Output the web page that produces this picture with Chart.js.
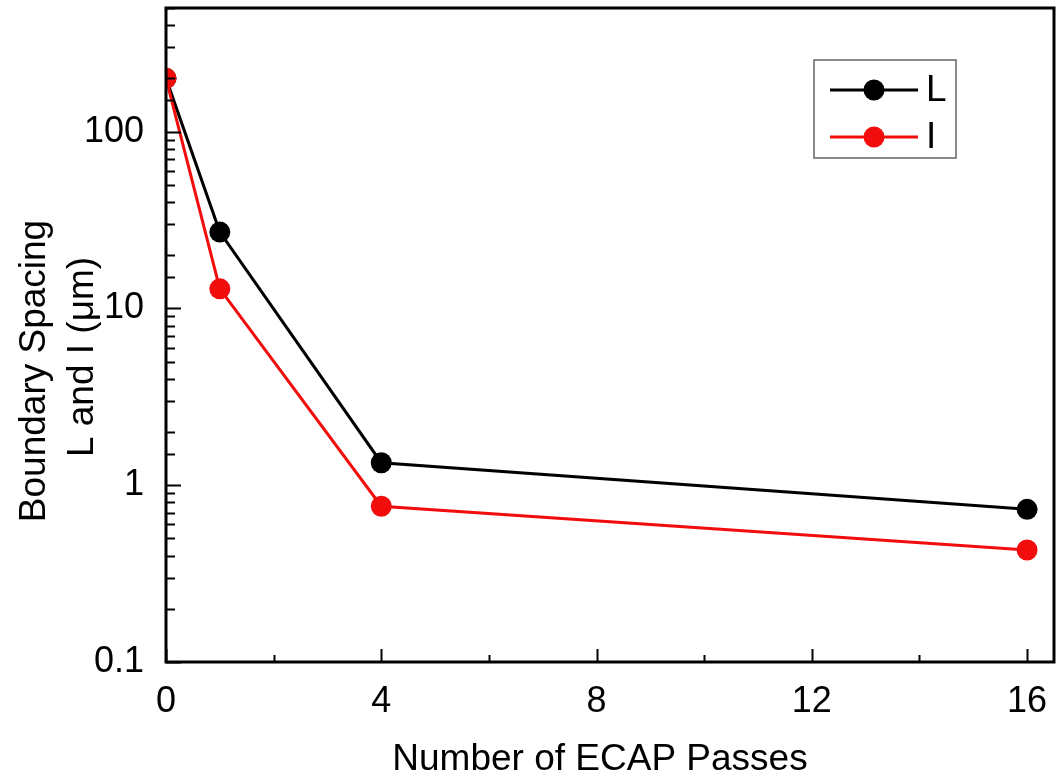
<!DOCTYPE html>
<html>
<head>
<meta charset="utf-8">
<script src="https://cdn.jsdelivr.net/npm/chart.js@4/dist/chart.umd.min.js"></script>
<style>
  html, body { margin: 0; padding: 0; background: #fff; }
  #wrap { width: 1056px; height: 782px; }
</style>
</head>
<body>
<div id="wrap"><canvas id="spacingChart" width="1056" height="782"></canvas></div>
<script>
// ECAP passes vs boundary spacing (log scale)
const passes = [0, 1, 4, 16];
const spacingL = [200, 27, 1.34, 0.73];
const spacingI = [200, 12.9, 0.76, 0.43];
const majorY = [0.1, 1, 10, 100];
const xTitle = 'Number of ECAP Passes';
const yTitle = ['Boundary Spacing', 'L and I (\u03bcm)'];

const FONT = "'Liberation Sans', Arial, sans-serif";
const RED = '#f20d0d';

function isMajor(v) {
    return majorY.some(m => Math.abs(m - v) < m * 1e-6);
}

// frame, inward ticks, titles and legend box
const decorPlugin = {
    id: 'decor',
    afterDatasetsDraw(chart) {
        const ctx = chart.ctx;
        const area = chart.chartArea;
        const xs = chart.scales.x;
        const ys = chart.scales.y;
        ctx.save();
        ctx.strokeStyle = '#000';
        ctx.lineWidth = 2;

        xs.ticks.forEach(t => {
            if (t.value % 2 !== 0) return;
            const px = Math.round(xs.getPixelForValue(t.value)) + 0.5;
            const len = t.value % 4 === 0 ? 13 : 7;
            ctx.beginPath();
            ctx.moveTo(px, area.bottom);
            ctx.lineTo(px, area.bottom - len);
            ctx.stroke();
        });
        ys.ticks.forEach(t => {
            const py = Math.round(ys.getPixelForValue(t.value)) + 0.5;
            const len = isMajor(t.value) ? 15 : 9;
            ctx.beginPath();
            ctx.moveTo(area.left, py);
            ctx.lineTo(area.left + len, py);
            ctx.stroke();
        });

        ctx.lineWidth = 3;
        ctx.strokeRect(area.left, area.top, area.right - area.left, area.bottom - area.top);

        // axis titles
        ctx.fillStyle = '#000';
        ctx.font = '37px ' + FONT;
        ctx.textAlign = 'center';
        ctx.textBaseline = 'alphabetic';
        ctx.fillText(xTitle, 600, 770);

        ctx.save();
        ctx.translate(45, 371);
        ctx.rotate(-Math.PI / 2);
        ctx.fillText(yTitle[0], 0, 0);
        ctx.restore();
        ctx.save();
        ctx.translate(93, 357);
        ctx.rotate(-Math.PI / 2);
        ctx.fillText(yTitle[1], 0, 0);
        ctx.restore();

        // legend
        ctx.strokeStyle = '#666';
        ctx.lineWidth = 1.5;
        ctx.strokeRect(814, 60, 142, 98);
        chart.data.datasets.forEach((ds, i) => {
            const y = 90 + i * 47;
            ctx.strokeStyle = ds.borderColor;
            ctx.lineWidth = 3;
            ctx.beginPath();
            ctx.moveTo(830, y);
            ctx.lineTo(918, y);
            ctx.stroke();
            ctx.fillStyle = ds.backgroundColor;
            ctx.beginPath();
            ctx.arc(874, y, 10.5, 0, Math.PI * 2);
            ctx.fill();
            ctx.fillStyle = '#000';
            ctx.font = '37px ' + FONT;
            ctx.textAlign = 'left';
            ctx.textBaseline = 'middle';
            ctx.fillText(ds.label, 926, y + 1);
        });
        ctx.restore();
    }
};

function makeSeries(values) {
    return passes.map((p, i) => ({ x: p, y: values[i] }));
}

const ctx = document.getElementById('spacingChart').getContext('2d');
new Chart(ctx, {
    type: 'line',
    data: {
        datasets: [{
            label: 'L',
            data: makeSeries(spacingL),
            borderColor: '#000',
            backgroundColor: '#000',
            clip: 0,
            order: 1
        }, {
            label: 'I',
            data: makeSeries(spacingI),
            borderColor: RED,
            backgroundColor: RED,
            clip: 0,
            order: 0
        }]
    },
    options: {
        responsive: false,
        animation: false,
        layout: { autoPadding: false, padding: { top: 8, right: 2, left: 0, bottom: 0 } },
        elements: {
            line: { borderWidth: 3, tension: 0 },
            point: { radius: 10.5, hoverRadius: 10.5, borderWidth: 0 }
        },
        plugins: {
            legend: { display: false },
            tooltip: { enabled: false }
        },
        scales: {
            x: {
                type: 'linear',
                min: 0,
                max: 16.5,
                grid: { display: false },
                border: { display: false },
                ticks: {
                    stepSize: 2,
                    includeBounds: false,
                    autoSkip: false,
                    maxRotation: 0,
                    padding: 10,
                    color: '#000',
                    font: { family: FONT, size: 36 },
                    callback: v => (v % 4 === 0 ? String(v) : '')
                },
                afterFit: s => {
                    s.height = 120;
                    s.paddingLeft = 0;
                    s.paddingRight = 0;
                }
            },
            y: {
                type: 'logarithmic',
                min: 0.1,
                max: 500,
                grid: { display: false },
                border: { display: false },
                ticks: {
                    autoSkip: false,
                    padding: 14,
                    color: '#000',
                    font: { family: FONT, size: 36 },
                    callback: v => (isMajor(v) ? String(v) : '')
                },
                afterFit: s => {
                    s.width = 166;
                    s.paddingTop = 0;
                    s.paddingBottom = 0;
                }
            }
        }
    },
    plugins: [decorPlugin]
});
</script>
</body>
</html>
